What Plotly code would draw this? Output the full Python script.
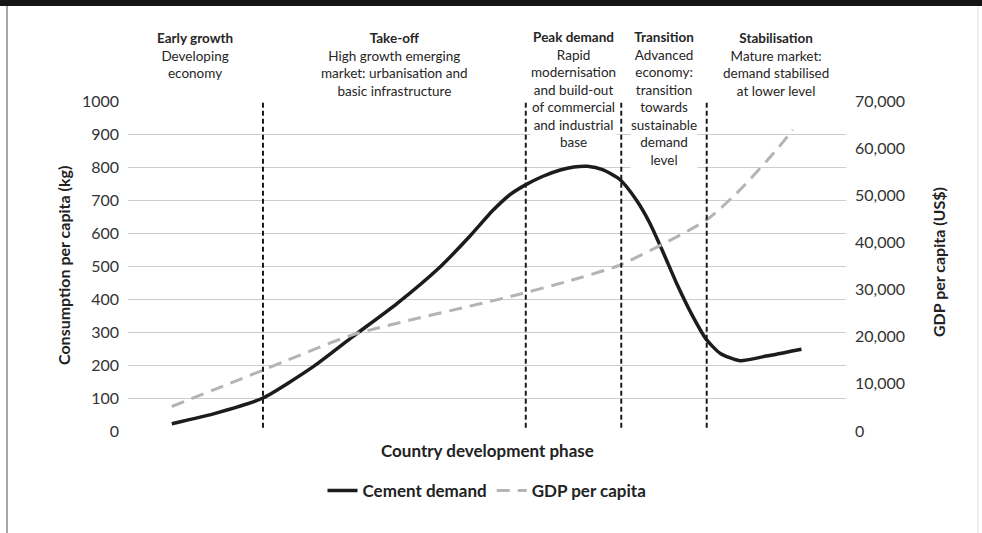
import plotly.graph_objects as go

# ---- data ----
phase_x = [18.8, 55.4, 68.7, 80.6]          # phase boundaries (development index)
phase_centers = [9.4, 37.1, 62.05, 74.65, 90.3]
phase_titles = ["Early growth", "Take-off", "Peak demand", "Transition", "Stabilisation"]
phase_texts = [
    ["Developing", "economy"],
    ["High growth emerging", "market: urbanisation and", "basic infrastructure"],
    ["Rapid", "modernisation", "and build-out", "of commercial", "and industrial", "base"],
    ["Advanced", "economy:", "transition", "towards", "sustainable", "demand", "level"],
    ["Mature market:", "demand stabilised", "at lower level"],
]

cement_x = [6.1, 12.4, 18.8, 25.8, 31.3, 37.5, 43.5, 47.6, 50.8, 53.2, 55.3, 57.8, 60.2, 62.1,
            64.0, 66.1, 68.5, 70.8, 72.7, 74.6, 76.4, 78.7, 80.6, 82.5, 85.2, 88.9, 93.8]
cement_y = [22, 55, 100, 195, 286, 387, 498, 590, 668, 716, 745, 772, 791, 800,
            802, 792, 762, 700, 629, 538, 448, 346, 276, 235, 213, 227, 248]

gdp_x = [6.1, 18.8, 31.3, 53.2, 61.1, 68.5, 80.6, 85.2, 90.3, 92.6]
gdp_y = [5200, 12900, 20400, 28500, 31700, 35200, 44800, 51100, 59600, 63900]

left_ticks = list(range(0, 1001, 100))
right_ticks = list(range(0, 70001, 10000))

FONT = "Lato"
W, H = 982, 533
L, R, T, B = 128, 846, 101, 431

def px(xp):
    return (xp - L) / (R - L)

def py(yp):
    return (B - yp) / (B - T)

fig = go.Figure()
fig.add_trace(go.Scatter(
    x=cement_x, y=cement_y, mode="lines", name="<b>Cement demand</b>",
    line=dict(color="#1c1c1c", width=3.5, shape="spline", smoothing=0.6),
    yaxis="y"))
fig.add_trace(go.Scatter(
    x=gdp_x, y=gdp_y, mode="lines", name="<b>GDP per capita</b>",
    line=dict(color="#b4b4b4", width=3, dash="13px,8px", shape="spline", smoothing=0.6),
    yaxis="y2"))

shapes = []
for xv in phase_x:
    shapes.append(dict(type="line", xref="x", yref="y", x0=xv, x1=xv, y0=10, y1=995,
                       line=dict(color="#1a1a1a", width=2, dash="5px,3px")))
# top black band and border lines
shapes.append(dict(type="rect", xref="paper", yref="paper", x0=px(0), x1=px(W),
                   y0=py(6), y1=py(0), fillcolor="#151515", line=dict(width=0), layer="above"))
shapes.append(dict(type="line", xref="paper", yref="paper", x0=px(7), x1=px(7),
                   y0=py(W), y1=py(6), line=dict(color="#8a8a8a", width=1.5)))
shapes.append(dict(type="line", xref="paper", yref="paper", x0=px(978), x1=px(978),
                   y0=py(W), y1=py(6), line=dict(color="#e2e2e2", width=1)))

annotations = []
for i, (c, t, lines) in enumerate(zip(phase_centers, phase_titles, phase_texts)):
    txt = "<b>" + t + "</b><br>" + "<br>".join(lines)
    ann = dict(x=c, xref="x", y=py(28), yref="paper", xanchor="center", yanchor="top",
               text=txt, showarrow=False, align="center",
               font=dict(family=FONT, size=13.5, color="#262626"))
    if i in (2, 3):
        ann["bgcolor"] = "white"
        ann["borderpad"] = 0
    annotations.append(ann)

annotations.append(dict(x=px(63), y=py(266), xref="paper", yref="paper", textangle=-90,
                        text="<b>Consumption per capita (kg)</b>", showarrow=False,
                        xanchor="center", yanchor="middle",
                        font=dict(family=FONT, size=16, color="#222")))
annotations.append(dict(x=px(938), y=py(262), xref="paper", yref="paper", textangle=-90,
                        text="<b>GDP per capita (US$)</b>", showarrow=False,
                        xanchor="center", yanchor="middle",
                        font=dict(family=FONT, size=16, color="#222")))
annotations.append(dict(x=0.5, y=py(450), xref="paper", yref="paper",
                        text="<b>Country development phase</b>", showarrow=False,
                        xanchor="center", yanchor="middle",
                        font=dict(family=FONT, size=17, color="#222")))

fig.update_layout(
    width=W, height=H,
    margin=dict(l=L, r=W - R, t=T, b=H - B),
    paper_bgcolor="white", plot_bgcolor="white",
    font=dict(family=FONT, color="#333"),
    showlegend=True,
    legend=dict(orientation="h", x=0.5, xanchor="center", y=py(491), yanchor="middle",
                font=dict(family=FONT, size=17, color="#222"), itemwidth=30,
                bgcolor="rgba(0,0,0,0)"),
    xaxis=dict(range=[0, 100], showgrid=False, zeroline=False, showticklabels=False,
               ticks="", showline=False),
    yaxis=dict(range=[0, 1000], tickvals=left_ticks, ticktext=[str(v) for v in left_ticks],
               showgrid=True, gridcolor="#cdcdcd", gridwidth=1, zeroline=False,
               ticks="", ticklabelstandoff=8, showline=False,
               tickfont=dict(family=FONT, size=16, color="#333")),
    yaxis2=dict(range=[0, 70000], overlaying="y", side="right", tickvals=right_ticks,
                ticktext=[f"{v:,}" for v in right_ticks], showgrid=False, zeroline=False,
                ticks="", ticklabelstandoff=8, showline=False,
                tickfont=dict(family=FONT, size=16, color="#333")),
    shapes=shapes,
    annotations=annotations,
)

fig.write_html("out.html")
